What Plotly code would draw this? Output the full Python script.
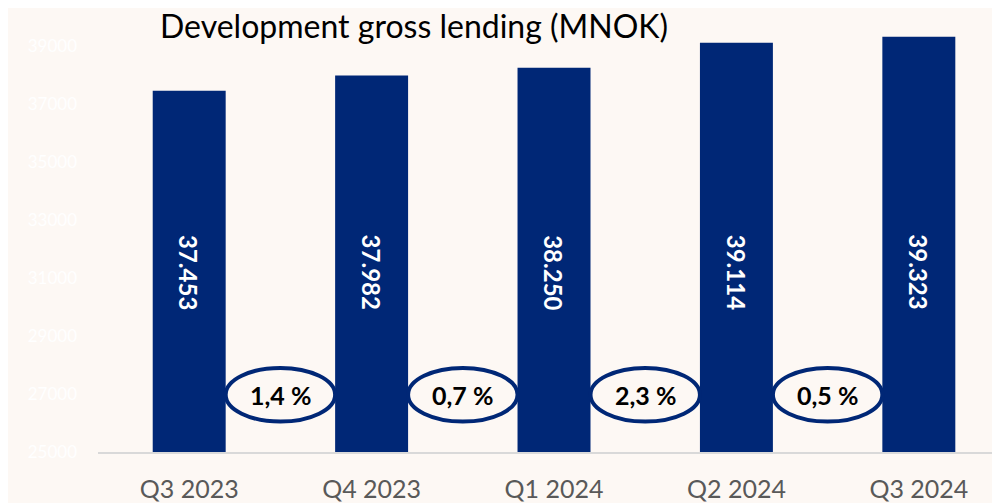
import plotly.graph_objects as go

quarters = ["Q3 2023", "Q4 2023", "Q1 2024", "Q2 2024", "Q3 2024"]
lending = [37453, 37982, 38250, 39114, 39323]
growth = ["1,4 %", "0,7 %", "2,3 %", "0,5 %"]
yticks = [25000, 27000, 29000, 31000, 33000, 35000, 37000, 39000]

navy = "#002776"
bg = "#FDF8F4"
font = "Lato"

labels = ["{:,}".format(v).replace(",", ".") for v in lending]
xpos = list(range(len(quarters)))

fig = go.Figure()
fig.add_trace(go.Bar(x=xpos, y=lending, width=0.4, marker_color=navy,
                     marker_line_width=0, hoverinfo="skip"))

# value labels inside bars (vertical)
for i, lab in enumerate(labels):
    fig.add_annotation(x=i, y=31200, text="<b>%s</b>" % lab, textangle=90,
                       showarrow=False, font=dict(family=font, size=24, color="white"))

# growth ellipses between bars
for i, g in enumerate(growth):
    cx = i + 0.5
    fig.add_shape(type="circle", xref="x", yref="y",
                  x0=cx - 0.3, x1=cx + 0.3, y0=26050, y1=27900,
                  line=dict(color=navy, width=4), fillcolor=bg, layer="above")
    fig.add_annotation(x=cx, y=26950, text="<b>%s</b>" % g, showarrow=False,
                       font=dict(family=font, size=25, color="black"))

# page body adds an 8px offset, margins compensate for it
fig.update_layout(
    width=1000, height=503,
    paper_bgcolor=bg, plot_bgcolor=bg,
    margin=dict(l=90, r=8, t=9, b=59, autoexpand=False),
    showlegend=False,
    title=dict(text="Development gross lending (MNOK)", x=0.152, xanchor="left",
               y=0.962, yanchor="middle", yref="container",
               font=dict(family=font, size=32, color="black")),
    xaxis=dict(range=[-0.5, 4.445], tickvals=xpos, ticktext=quarters,
               showgrid=False, zeroline=False, showline=True, automargin=False,
               linecolor="#D9D9D9", linewidth=2, ticks="", ticklabelstandoff=14,
               tickfont=dict(family=font, size=25, color="#595959")),
    yaxis=dict(range=[25000, 40000], tickvals=yticks, ticktext=[str(v) for v in yticks],
               showgrid=False, zeroline=False, ticks="", ticklabelstandoff=20,
               automargin=False,
               tickfont=dict(family=font, size=17, color="#FFFFFF")),
)

fig.write_html("out.html")
